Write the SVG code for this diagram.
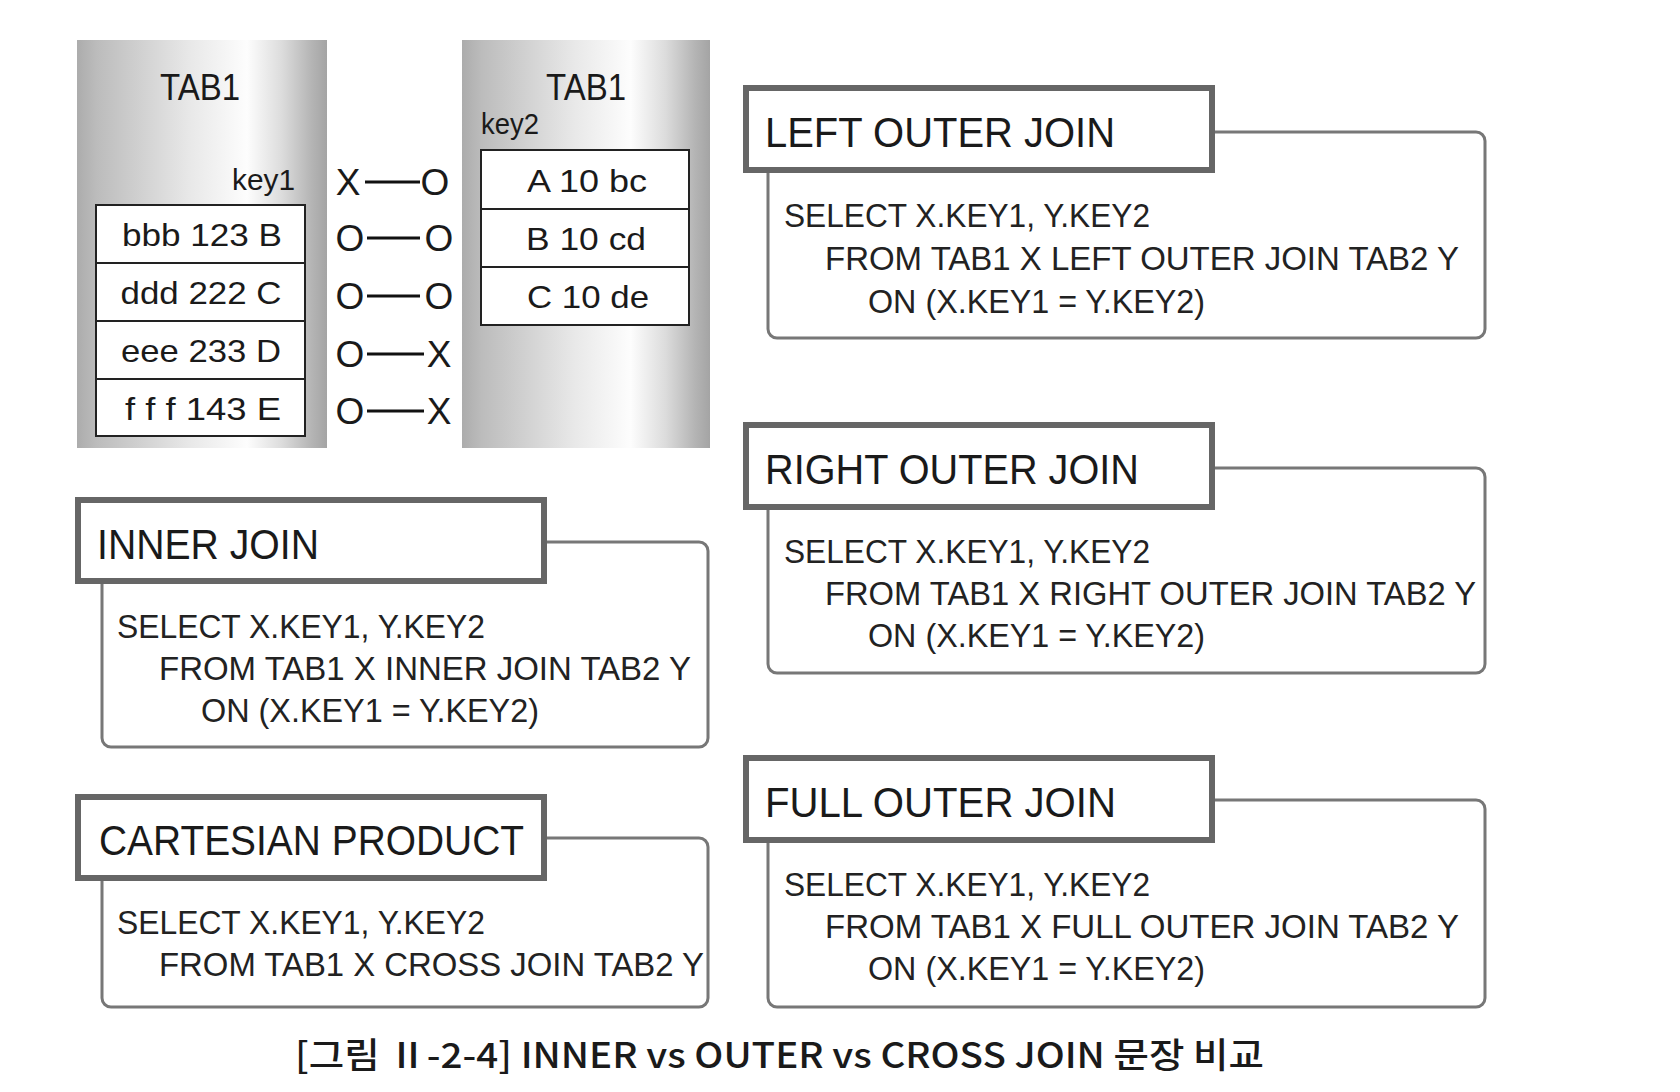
<svg xmlns="http://www.w3.org/2000/svg" width="1680" height="1092" viewBox="0 0 1680 1092">
<defs>
<linearGradient id="col" x1="0" y1="0" x2="1" y2="0">
 <stop offset="0" stop-color="#acacac"/>
 <stop offset="0.08" stop-color="#bcbcbc"/>
 <stop offset="0.45" stop-color="#e8e8e8"/>
 <stop offset="0.68" stop-color="#fdfdfd"/>
 <stop offset="0.82" stop-color="#dcdcdc"/>
 <stop offset="0.94" stop-color="#b4b4b4"/>
 <stop offset="1" stop-color="#a4a4a4"/>
</linearGradient>
<style>
text{font-family:"Liberation Sans","Noto Sans CJK KR",sans-serif;fill:#1a1a1a}
.title{font-size:42px}
.code{font-size:33px;fill:#222}
.cell{font-size:32px;text-anchor:middle}
.tab{font-size:36px;text-anchor:middle}
.key{font-size:30px}
.mk{font-size:37px;text-anchor:middle}
.tbox{fill:#fff;stroke:#666;stroke-width:6}
.body{fill:#fff;stroke:#777;stroke-width:3}
.cellr{fill:#fff;stroke:#222;stroke-width:2}
.conn{stroke:#111;stroke-width:3}
.cap{font-family:"Noto Sans CJK KR","Liberation Sans",sans-serif;font-size:35px;font-weight:500}
</style>
</defs>
<rect width="1680" height="1092" fill="#fff"/>

<g id="tab1-left">
 <rect x="77" y="40" width="250" height="408" fill="url(#col)"/>
 <text class="tab" x="200" y="100" textLength="80" lengthAdjust="spacingAndGlyphs">TAB1</text>
 <text class="key" x="295" y="190" text-anchor="end" textLength="63" lengthAdjust="spacingAndGlyphs">key1</text>
 <rect class="cellr" x="96" y="205" width="209" height="58"/>
 <rect class="cellr" x="96" y="263" width="209" height="58"/>
 <rect class="cellr" x="96" y="321" width="209" height="58"/>
 <rect class="cellr" x="96" y="379" width="209" height="57"/>
 <text class="cell" x="202" y="246" textLength="160" lengthAdjust="spacingAndGlyphs">bbb 123 B</text>
 <text class="cell" x="201" y="304" textLength="161" lengthAdjust="spacingAndGlyphs">ddd 222 C</text>
 <text class="cell" x="201" y="362" textLength="160" lengthAdjust="spacingAndGlyphs">eee 233 D</text>
 <text class="cell" x="203" y="420" textLength="156" lengthAdjust="spacingAndGlyphs">f f f 143 E</text>
</g>

<g id="tab1-right">
 <rect x="462" y="40" width="248" height="408" fill="url(#col)"/>
 <text class="tab" x="586" y="100" textLength="80" lengthAdjust="spacingAndGlyphs">TAB1</text>
 <text class="key" x="481" y="134" textLength="58" lengthAdjust="spacingAndGlyphs">key2</text>
 <rect class="cellr" x="481" y="150" width="208" height="59"/>
 <rect class="cellr" x="481" y="209" width="208" height="58"/>
 <rect class="cellr" x="481" y="267" width="208" height="58"/>
 <text class="cell" x="587" y="192" textLength="120" lengthAdjust="spacingAndGlyphs">A 10 bc</text>
 <text class="cell" x="586" y="250" textLength="120" lengthAdjust="spacingAndGlyphs">B 10 cd</text>
 <text class="cell" x="588" y="308" textLength="122" lengthAdjust="spacingAndGlyphs">C 10 de</text>
</g>

<g id="match-marks">
 <text class="mk" x="348" y="195">X</text><text class="mk" x="435" y="195">O</text>
 <text class="mk" x="350" y="251">O</text><text class="mk" x="439" y="251">O</text>
 <text class="mk" x="350" y="309">O</text><text class="mk" x="439" y="309">O</text>
 <text class="mk" x="350" y="367">O</text><text class="mk" x="439" y="367">X</text>
 <text class="mk" x="350" y="424">O</text><text class="mk" x="439" y="424">X</text>
</g>

<g id="connectors">
 <line class="conn" x1="365" y1="182" x2="420" y2="182"/>
 <line class="conn" x1="367" y1="238" x2="420" y2="238"/>
 <line class="conn" x1="367" y1="296" x2="420" y2="296"/>
 <line class="conn" x1="367" y1="354" x2="424" y2="354"/>
 <line class="conn" x1="367" y1="411" x2="424" y2="411"/>
</g>

<g id="inner-join">
 <rect class="body" x="102" y="542" width="606" height="205" rx="9"/>
 <rect class="tbox" x="78" y="500" width="466" height="81"/>
 <text class="title" x="97" y="559" textLength="222" lengthAdjust="spacingAndGlyphs">INNER JOIN</text>
 <text class="code" x="117" y="638" textLength="368" lengthAdjust="spacingAndGlyphs">SELECT X.KEY1, Y.KEY2</text>
 <text class="code" x="159" y="680" textLength="532" lengthAdjust="spacingAndGlyphs">FROM TAB1 X INNER JOIN TAB2 Y</text>
 <text class="code" x="201" y="722" textLength="338" lengthAdjust="spacingAndGlyphs">ON (X.KEY1 = Y.KEY2)</text>
</g>

<g id="cartesian-product">
 <rect class="body" x="102" y="838" width="606" height="169" rx="9"/>
 <rect class="tbox" x="78" y="797" width="466" height="81"/>
 <text class="title" x="99" y="855" textLength="425" lengthAdjust="spacingAndGlyphs">CARTESIAN PRODUCT</text>
 <text class="code" x="117" y="934" textLength="368" lengthAdjust="spacingAndGlyphs">SELECT X.KEY1, Y.KEY2</text>
 <text class="code" x="159" y="976" textLength="545" lengthAdjust="spacingAndGlyphs">FROM TAB1 X CROSS JOIN TAB2 Y</text>
</g>

<g id="left-outer-join">
 <rect class="body" x="768" y="132" width="717" height="206" rx="9"/>
 <rect class="tbox" x="746" y="88" width="466" height="82"/>
 <text class="title" x="765" y="147" textLength="350" lengthAdjust="spacingAndGlyphs">LEFT OUTER JOIN</text>
 <text class="code" x="784" y="227" textLength="366" lengthAdjust="spacingAndGlyphs">SELECT X.KEY1, Y.KEY2</text>
 <text class="code" x="825" y="270" textLength="634" lengthAdjust="spacingAndGlyphs">FROM TAB1 X LEFT OUTER JOIN TAB2 Y</text>
 <text class="code" x="868" y="313" textLength="337" lengthAdjust="spacingAndGlyphs">ON (X.KEY1 = Y.KEY2)</text>
</g>

<g id="right-outer-join">
 <rect class="body" x="768" y="468" width="717" height="205" rx="9"/>
 <rect class="tbox" x="746" y="425" width="466" height="82"/>
 <text class="title" x="765" y="484" textLength="374" lengthAdjust="spacingAndGlyphs">RIGHT OUTER JOIN</text>
 <text class="code" x="784" y="563" textLength="366" lengthAdjust="spacingAndGlyphs">SELECT X.KEY1, Y.KEY2</text>
 <text class="code" x="825" y="605" textLength="651" lengthAdjust="spacingAndGlyphs">FROM TAB1 X RIGHT OUTER JOIN TAB2 Y</text>
 <text class="code" x="868" y="647" textLength="337" lengthAdjust="spacingAndGlyphs">ON (X.KEY1 = Y.KEY2)</text>
</g>

<g id="full-outer-join">
 <rect class="body" x="768" y="800" width="717" height="207" rx="9"/>
 <rect class="tbox" x="746" y="758" width="466" height="82"/>
 <text class="title" x="765" y="817" textLength="351" lengthAdjust="spacingAndGlyphs">FULL OUTER JOIN</text>
 <text class="code" x="784" y="896" textLength="366" lengthAdjust="spacingAndGlyphs">SELECT X.KEY1, Y.KEY2</text>
 <text class="code" x="825" y="938" textLength="634" lengthAdjust="spacingAndGlyphs">FROM TAB1 X FULL OUTER JOIN TAB2 Y</text>
 <text class="code" x="868" y="980" textLength="337" lengthAdjust="spacingAndGlyphs">ON (X.KEY1 = Y.KEY2)</text>
</g>

<g id="caption">
 <text class="cap" x="295" y="1068" textLength="969" lengthAdjust="spacingAndGlyphs">[그림 Ⅱ-2-4] INNER vs OUTER vs CROSS JOIN 문장 비교</text>
</g>
</svg>
